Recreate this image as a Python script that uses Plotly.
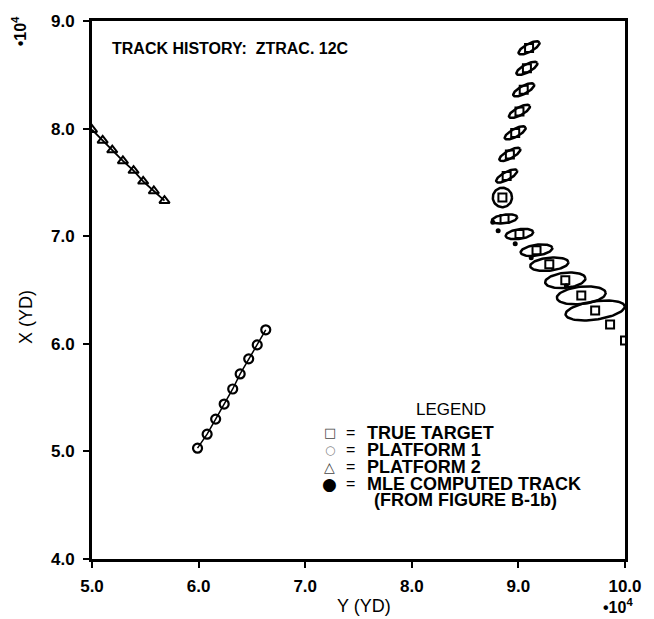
import numpy as np
import plotly.graph_objects as go

# ---- data (units of 1e4 yards) ----
true_x = [9.10, 9.08, 9.05, 9.01, 8.97, 8.92, 8.89, 8.85, 8.87, 9.01, 9.17, 9.29, 9.44, 9.59, 9.72, 9.86, 10.0]
true_y = [8.75, 8.56, 8.36, 8.16, 7.96, 7.76, 7.56, 7.36, 7.16, 7.02, 6.87, 6.74, 6.59, 6.45, 6.31, 6.18, 6.03]

plat1_x = [5.99, 6.08, 6.16, 6.24, 6.32, 6.39, 6.47, 6.55, 6.63]
plat1_y = [5.03, 5.16, 5.30, 5.44, 5.58, 5.72, 5.86, 5.99, 6.13]

plat2_x = [5.00, 5.10, 5.19, 5.29, 5.39, 5.48, 5.58, 5.68]
plat2_y = [7.99, 7.89, 7.80, 7.70, 7.61, 7.51, 7.42, 7.33]

mle_x = [8.76, 8.81, 8.97, 9.12, 9.45]
mle_y = [7.13, 7.05, 6.93, 6.80, 6.54]

# uncertainty ellipses: centre, semi-axes, tilt (deg)
ell_x = [9.10, 9.08, 9.05, 9.01, 8.97, 8.92, 8.89, 8.85, 8.87, 9.01, 9.17, 9.29, 9.44, 9.59, 9.72]
ell_y = [8.75, 8.56, 8.36, 8.16, 7.96, 7.76, 7.56, 7.36, 7.16, 7.02, 6.87, 6.74, 6.59, 6.45, 6.31]
ell_a = [0.11, 0.11, 0.11, 0.11, 0.11, 0.11, 0.11, 0.09, 0.12, 0.13, 0.15, 0.18, 0.19, 0.23, 0.28]
ell_b = [0.037, 0.037, 0.037, 0.037, 0.037, 0.037, 0.037, 0.09, 0.04, 0.045, 0.05, 0.06, 0.07, 0.08, 0.085]
ell_ang = [28, 28, 28, 28, 28, 28, 28, 0, 8, 8, 8, 6, 6, 6, 8]

x_ticks = [5, 6, 7, 8, 9, 10]
x_ticktext = ["5.0", "6.0", "7.0", "8.0", "9.0", "10.0"]
y_ticks = [4, 5, 6, 7, 8, 9]
y_ticktext = ["4.0", "5.0", "6.0", "7.0", "8.0", "9.0"]

legend_symbols = ["\u25a1", "\u25cb", "\u25b3", "\u25cf", ""]
legend_labels = ["TRUE TARGET", "PLATFORM 1", "PLATFORM 2", "MLE COMPUTED TRACK", "(FROM FIGURE B-1b)"]

FONT = "Liberation Sans"
fig = go.Figure()

# ellipses
t = np.linspace(0, 2 * np.pi, 80)
for cx, cy, a, b, ang in zip(ell_x, ell_y, ell_a, ell_b, ell_ang):
    th = np.deg2rad(ang)
    ex = cx + a * np.cos(t) * np.cos(th) - b * np.sin(t) * np.sin(th)
    ey = cy + a * np.cos(t) * np.sin(th) + b * np.sin(t) * np.cos(th)
    fig.add_trace(go.Scatter(x=ex, y=ey, mode="lines", line=dict(color="black", width=2.5),
                             hoverinfo="skip", showlegend=False))

fig.add_trace(go.Scatter(x=true_x, y=true_y, mode="markers",
                         marker=dict(symbol="square-open", size=8, color="black", line=dict(width=2)),
                         showlegend=False))
fig.add_trace(go.Scatter(x=plat1_x, y=plat1_y, mode="lines+markers",
                         line=dict(color="black", width=1.5),
                         marker=dict(symbol="circle-open", size=9, color="black", line=dict(width=2.2)),
                         showlegend=False))
fig.add_trace(go.Scatter(x=plat2_x, y=plat2_y, mode="lines+markers",
                         line=dict(color="black", width=1.8),
                         marker=dict(symbol="triangle-up-open", size=9, color="black", line=dict(width=2)),
                         showlegend=False))
fig.add_trace(go.Scatter(x=mle_x, y=mle_y, mode="markers",
                         marker=dict(symbol="circle", size=5, color="black"),
                         showlegend=False))

# plot area in pixels: x 92..635, y 17..559
def px(xp):
    return (xp - 92) / 543.0

def py(yp):
    return (559 - yp) / 542.0

ann = []
ann.append(dict(x=px(110), y=py(45), xref="paper", yref="paper", text="TRACK HISTORY:  ZTRAC. 12C",
                showarrow=False, xanchor="left", yanchor="middle",
                font=dict(family=FONT, size=16, color="black", weight="bold")))
ann.append(dict(x=px(458), y=py(408), xref="paper", yref="paper", text="LEGEND", showarrow=False,
                xanchor="center", yanchor="middle", font=dict(family=FONT, size=17, color="black")))
row_y = [432, 449, 466, 483, 500]
sym_size = [13, 12, 14, 17, 1]
sym_col = ["#444", "#888", "#444", "black", "black"]
for sym, lab, ry, ss, sc in zip(legend_symbols, legend_labels, row_y, sym_size, sym_col):
    if sym:
        ann.append(dict(x=px(334), y=py(ry), xref="paper", yref="paper", text=sym, showarrow=False,
                        xanchor="center", yanchor="middle",
                        font=dict(family="DejaVu Sans", size=ss, color=sc)))
        ann.append(dict(x=px(355), y=py(ry), xref="paper", yref="paper", text="=", showarrow=False,
                        xanchor="center", yanchor="middle",
                        font=dict(family=FONT, size=16, color="black")))
        lx = 370
    else:
        lx = 377
    ann.append(dict(x=px(lx), y=py(ry), xref="paper", yref="paper", text=lab, showarrow=False,
                    xanchor="left", yanchor="middle",
                    font=dict(family=FONT, size=18, color="black", weight="bold")))
ann.append(dict(x=px(25), y=py(315), xref="paper", yref="paper", text="X (YD)", showarrow=False,
                textangle=-90, xanchor="center", yanchor="middle",
                font=dict(family=FONT, size=18, color="black")))
ann.append(dict(x=px(369), y=py(606), xref="paper", yref="paper", text="Y (YD)", showarrow=False,
                xanchor="center", yanchor="middle",
                font=dict(family=FONT, size=18, color="black")))
ann.append(dict(x=px(18), y=py(27), xref="paper", yref="paper", text="\u202210<sup>4</sup>",
                showarrow=False, textangle=-90, xanchor="center", yanchor="middle",
                font=dict(family=FONT, size=16, color="black", weight="bold")))
ann.append(dict(x=px(628), y=py(606), xref="paper", yref="paper", text="\u202210<sup>4</sup>",
                showarrow=False, xanchor="center", yanchor="middle",
                font=dict(family=FONT, size=16, color="black", weight="bold")))

fig.update_layout(
    width=654, height=619,
    margin=dict(l=92, r=19, t=17, b=60),
    plot_bgcolor="white", paper_bgcolor="white",
    annotations=ann,
    showlegend=False,
)
fig.update_xaxes(range=[5.0, 10.0], tickvals=x_ticks, ticktext=x_ticktext,
                 showgrid=False, zeroline=False, showline=True, linecolor="black", linewidth=3,
                 mirror=True, ticks="outside", ticklen=6, tickwidth=2, tickcolor="black",
                 ticklabelstandoff=4,
                 tickfont=dict(family=FONT, size=17, color="black", weight="bold"))
fig.update_yaxes(range=[4.0, 9.0], tickvals=y_ticks, ticktext=y_ticktext,
                 showgrid=False, zeroline=False, showline=True, linecolor="black", linewidth=3,
                 mirror=True, ticks="outside", ticklen=6, tickwidth=2, tickcolor="black",
                 ticklabelstandoff=5,
                 tickfont=dict(family=FONT, size=17, color="black", weight="bold"))

fig.write_html("out.html", config={"displayModeBar": False},
               post_script="document.body.style.margin='0px';document.body.style.overflow='hidden';")
